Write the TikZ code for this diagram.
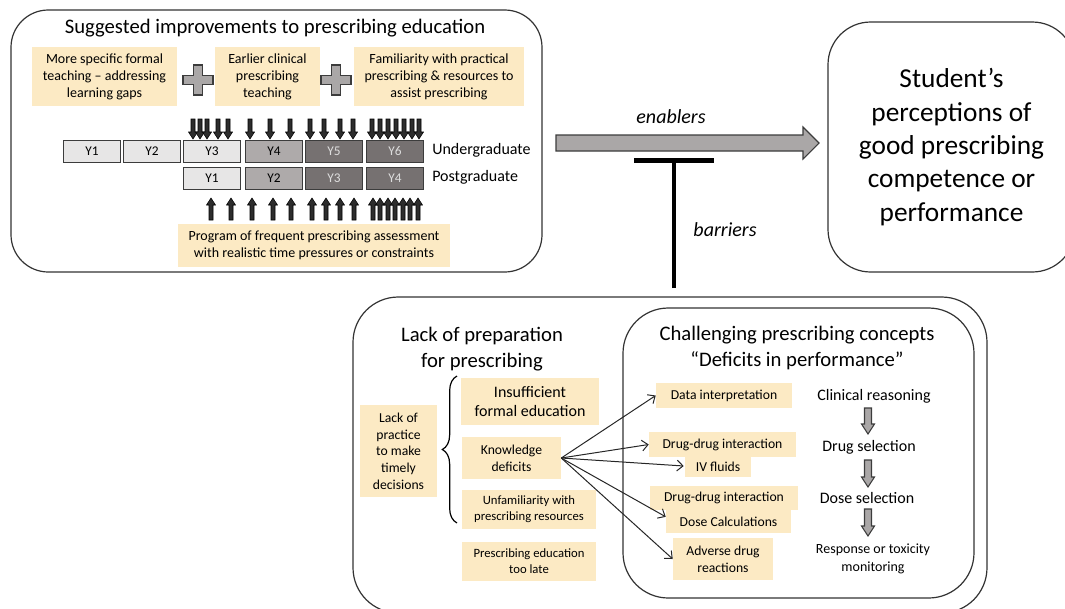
\documentclass[tikz,border=0pt]{standalone}
\usepackage{fontspec}
\setmainfont{Carlito}
\usetikzlibrary{arrows.meta,decorations.pathreplacing,calc}
\definecolor{ybox}{RGB}{252,234,196}
\definecolor{ylight}{RGB}{231,230,230}
\definecolor{ymid}{RGB}{174,170,170}
\definecolor{ydark}{RGB}{118,113,113}
\definecolor{edge}{RGB}{60,60,60}
\definecolor{arrfill}{RGB}{170,167,167}
\definecolor{darkarr}{RGB}{45,45,45}
\definecolor{ytxt}{RGB}{222,222,222}
\newcommand\fs[2]{\fontsize{#1}{#2}\selectfont}
% vertical block arrow: x, base y, tip y, shaft half, head half, signed head length, style
\newcommand\varr[7]{\filldraw[#7] ({#1-#4},{#2}) -- ({#1+#4},{#2}) -- ({#1+#4},{#3-(#6)}) -- ({#1+#5},{#3-(#6)}) -- ({#1},{#3}) -- ({#1-#5},{#3-(#6)}) -- ({#1-#4},{#3-(#6)}) -- cycle;}
\newcommand\plusshape[2]{\filldraw[grayarr] ({#1-4.5},{#2-15}) -- ({#1+4.5},{#2-15}) -- ({#1+4.5},{#2-4.5}) -- ({#1+15},{#2-4.5}) -- ({#1+15},{#2+4.5}) -- ({#1+4.5},{#2+4.5}) -- ({#1+4.5},{#2+15}) -- ({#1-4.5},{#2+15}) -- ({#1-4.5},{#2+4.5}) -- ({#1-15},{#2+4.5}) -- ({#1-15},{#2-4.5}) -- ({#1-4.5},{#2-4.5}) -- cycle;}
\begin{document}
\begin{tikzpicture}[x=0.75pt,y=-0.75pt,
  yb/.style 2 args={fill=ybox, minimum width=#1*0.75pt, minimum height=#2*0.75pt, inner sep=0pt, align=center},
  frame/.style={draw=black!80, line width=0.9pt},
  yr/.style={draw=edge, line width=1.1pt, minimum width=57*0.75pt, minimum height=22*0.75pt, inner sep=0pt, font=\fs{10}{12}},
  conn/.style={draw=black!85, line width=0.75pt, -{Straight Barb[length=4.5pt,width=8pt]}},
  smallarr/.style={fill=darkarr, draw=black, line width=0.4pt},
  grayarr/.style={fill=arrfill, draw=edge, line width=0.8pt},
]
\useasboundingbox (0,0) rectangle (1065,608);
\clip (0,0) rectangle (1065,608);

% ---------- frames ----------
\node[frame, rounded corners=28pt, minimum width=531*0.75pt, minimum height=262*0.75pt] (imp) at (276.5,141) {};
\node[frame, rounded corners=32pt, minimum width=247*0.75pt, minimum height=250*0.75pt, align=center, font=\fs{20.5}{25}] (stu) at (951.5,147) {Student’s\\perceptions of\\good prescribing\\competence or\\performance};
\node[frame, rounded corners=34pt, minimum width=634*0.75pt, minimum height=316*0.75pt] (lack) at (670,455) {};
\node[frame, rounded corners=34pt, minimum width=351*0.75pt, minimum height=290*0.75pt] (chal) at (798.5,453) {};

% ---------- top-left panel ----------
\node[font=\fs{15.5}{19}] (t1) at (275,28) {Suggested improvements to prescribing education};
\node[yb={145}{59}, font=\fs{10.5}{12.8}] (b1) at (104.5,76.5) {More specific formal\\teaching – addressing\\learning gaps};
\node[yb={105}{59}, font=\fs{10.5}{12.8}] (b2) at (267.5,76.5) {Earlier clinical\\prescribing\\teaching};
\node[yb={170}{59}, font=\fs{10.5}{12.8}] (b3) at (439,76.5) {Familiarity with practical\\prescribing \& resources to\\assist prescribing};
\plusshape{198}{80}
\plusshape{336}{80}

\foreach \x in {193,200,207,218,228, 250,270,290, 310,324,340,353, 372,380,388,396,404,412,419}
  {\varr{\x}{119}{139}{2}{4.5}{7}{smallarr}}

\node[yr, fill=ylight] (u1) at (92,151.5) {Y1};
\node[yr, fill=ylight] (u2) at (152,151.5) {Y2};
\node[yr, fill=ylight] (u3) at (212,151.5) {Y3};
\node[yr, fill=ymid] (u4) at (274,151.5) {Y4};
\node[yr, fill=ydark, text=ytxt] (u5) at (334,151.5) {Y5};
\node[yr, fill=ydark, text=ytxt] (u6) at (395,151.5) {Y6};
\node[yr, fill=ylight] (p1) at (212,178.5) {Y1};
\node[yr, fill=ymid] (p2) at (274,178.5) {Y2};
\node[yr, fill=ydark, text=ytxt] (p3) at (334,178.5) {Y3};
\node[yr, fill=ydark, text=ytxt] (p4) at (395,178.5) {Y4};
\node[anchor=west, font=\fs{12}{14}, inner sep=0pt] (ug) at (432,150) {Undergraduate};
\node[anchor=west, font=\fs{12}{14}, inner sep=0pt] (pg) at (432,177) {Postgraduate};

\foreach \x in {211,231,252,273,291, 312,326,340,354, 373,380,388,395,403,410,418}
  {\varr{\x}{220}{198}{2}{4.5}{-7}{smallarr}}

\node[yb={272}{43}, font=\fs{10.5}{12.8}] (prog) at (314,245.5) {Program of frequent prescribing assessment\\with realistic time pressures or constraints};

% ---------- enablers / barriers ----------
\filldraw[grayarr] (556,135) -- (803,135) -- (803,127) -- (819,143) -- (803,159) -- (803,151) -- (556,151) -- cycle;
\node[font=\fs{15}{18}\itshape] (en) at (671,117) {enablers};
\draw[line width=3.3pt] (674,288) -- (674,160);
\draw[line width=4pt] (634,160.5) -- (714,160.5);
\node[font=\fs{15}{18}\itshape] (ba) at (725,230) {barriers};

% ---------- bottom panel ----------
\node[align=center, font=\fs{15.5}{19}] (lt) at (482,349) {Lack of preparation\\for prescribing};
\node[align=center, font=\fs{15.5}{19}] (ct) at (797,348) {Challenging prescribing concepts\\“Deficits in performance”};

\node[yb={77}{92}, font=\fs{10.25}{12.5}] (lp) at (398.5,451) {Lack of\\practice\\to make\\timely\\decisions};
\node[yb={138}{47}, font=\fs{12}{14.5}] (ife) at (530,401.5) {Insufficient\\formal education};
\node[yb={99}{42}, font=\fs{10.25}{12.5}] (kd) at (511.5,458) {Knowledge\\deficits};
\node[yb={134}{39}, font=\fs{9.5}{12}] (unf) at (529,509.5) {Unfamiliarity with\\prescribing resources};
\node[yb={134}{39}, font=\fs{9.5}{12}] (late) at (529,561.5) {Prescribing education\\too late};
\draw[decorate, decoration={brace, amplitude=11pt}, line width=0.9pt] (457,523) -- (457,376);

\node[yb={136}{25}, font=\fs{10.25}{12}] (di) at (724,395.5) {Data interpretation};
\node[yb={147}{25}, font=\fs{10.25}{12}] (dd1) at (722.5,444.5) {Drug-drug interaction};
\node[yb={66}{20}, font=\fs{10.25}{12}] (iv) at (718,467) {IV fluids};
\node[yb={148}{24}, font=\fs{10.25}{12}] (dd2) at (724,498) {Drug-drug interaction};
\node[yb={125}{23}, font=\fs{10.25}{12}] (dc) at (728.5,521.5) {Dose Calculations};
\node[yb={100}{42}, font=\fs{10.25}{12.5}] (adr) at (723,559) {Adverse drug\\reactions};

\draw[conn] (kd.east) -- (di.west);
\draw[conn] (kd.east) -- (dd1.west);
\draw[conn] (kd.east) -- ($(iv.west)+(-1,-1)$);
\draw[conn] (kd.east) -- ($(dc.north west)!0.3!(dc.south west)$);
\draw[conn] (kd.east) -- (adr.west);

\node[font=\fs{12}{14}] (cr) at (874,396) {Clinical reasoning};
\node[font=\fs{12}{14}] (ds) at (869,447) {Drug selection};
\node[font=\fs{12}{14}] (dsel) at (867,498) {Dose selection};
\node[align=center, font=\fs{10.5}{13}] (rt) at (873,559) {Response or toxicity\\monitoring};
\varr{868}{408}{434}{3.5}{6.5}{10}{grayarr}
\varr{868}{460}{487}{3.5}{6.5}{10}{grayarr}
\varr{868}{509}{536}{3.5}{6.5}{10}{grayarr}
\end{tikzpicture}
\end{document}
